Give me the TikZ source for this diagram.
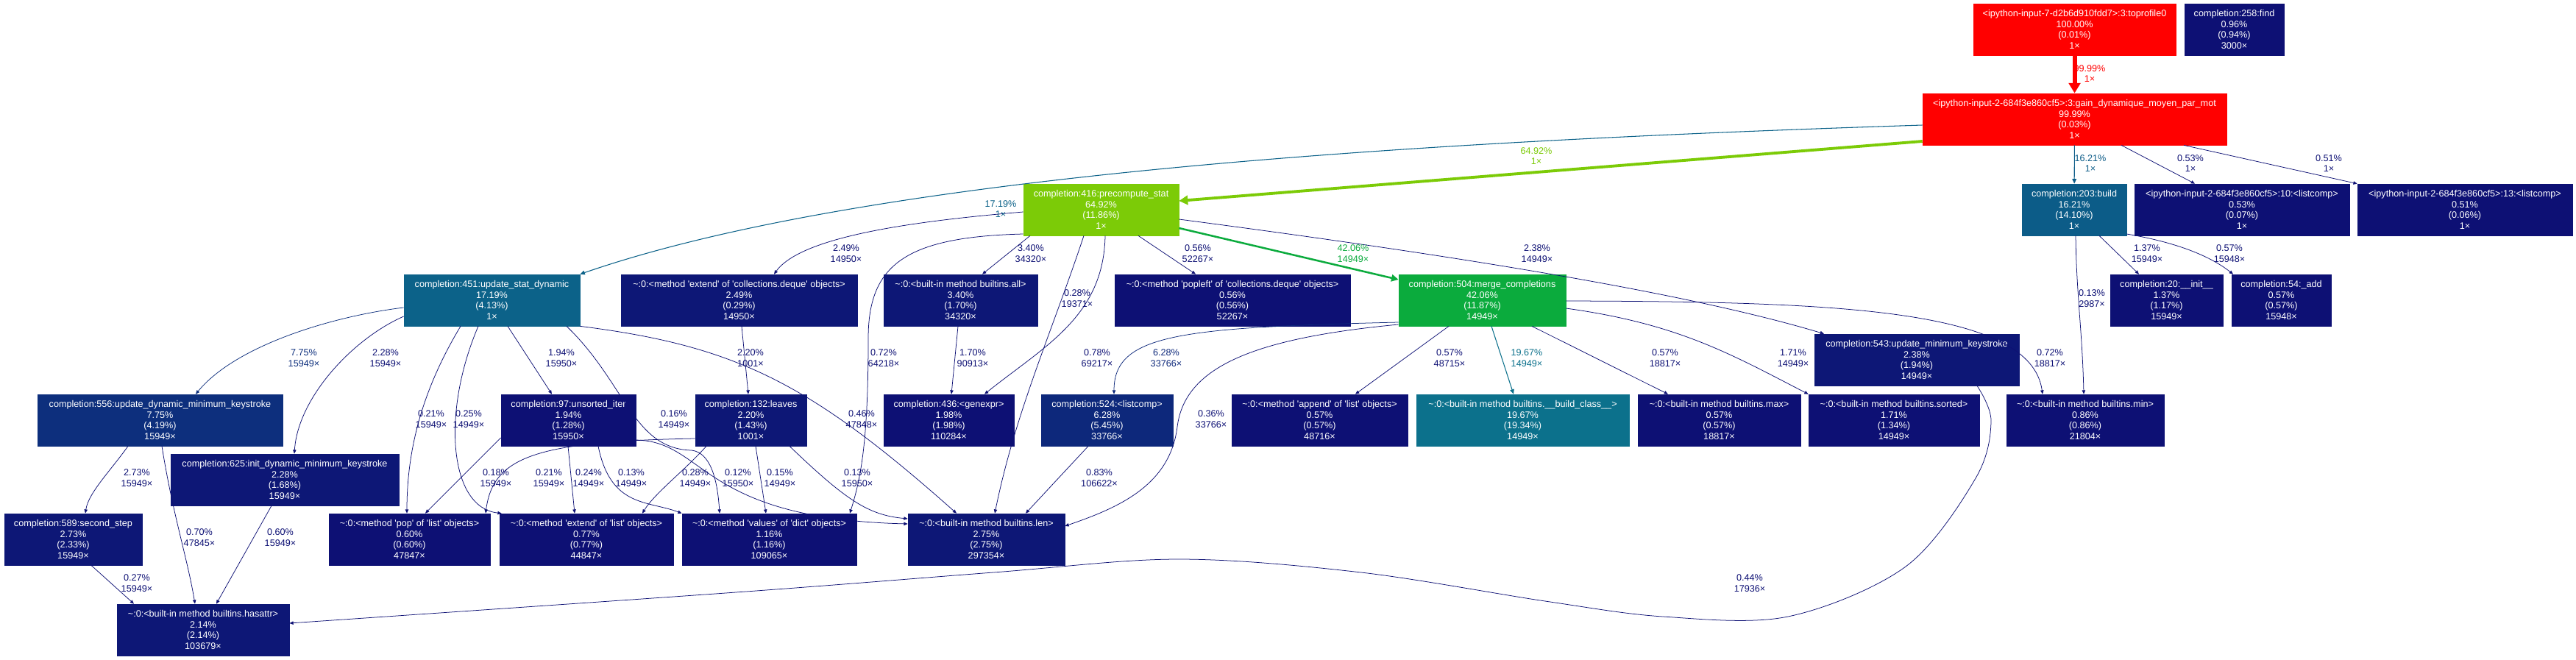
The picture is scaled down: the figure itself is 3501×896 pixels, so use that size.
\documentclass[tikz,border=0pt]{standalone}
\usepackage{fontspec}
\setmainfont{Liberation Sans}
\usetikzlibrary{arrows.meta}

\definecolor{cRed}{RGB}{255,0,0}
\definecolor{cLime}{RGB}{124,203,7}
\definecolor{cGreen}{RGB}{11,171,61}
\definecolor{cTealA}{RGB}{12,98,137}
\definecolor{cTealB}{RGB}{12,92,136}
\definecolor{cTealC}{RGB}{12,113,140}
\definecolor{cBlueA}{RGB}{13,47,125}
\definecolor{cBlueB}{RGB}{13,40,123}
\definecolor{cNavyA}{RGB}{13,23,118}
\definecolor{cNavy}{RGB}{13,16,116}

\newcommand\fs{\fontsize{7.2}{8.4}\selectfont}
\newcommand\tld{\textasciitilde}
\newcommand\q{\textquotesingle}

\tikzset{
  fn/.style={draw=#1, fill=#1, text=white, font=\fs, align=center, inner sep=0pt, minimum height=1.4cm},
  bw/.style={minimum width=#1*0.02cm},
  px/.style={xshift={(#1)*0.02cm}},
  py/.style={yshift={-(#1)*0.02cm}},
  elab/.style={text=#1, font=\fs, align=center, inner sep=0pt},
  elab/.default=cNavy,
  ln/.style={draw=#1, line width=0.43pt, -{Triangle[length=3pt,width=2.5pt]}},
  ln/.default=cNavy,
  lteal/.style={draw=#1, line width=0.6pt, -{Triangle[length=3.7pt,width=3.2pt]}},
  lgreen/.style={draw=cGreen, line width=1.43pt, -{Triangle[length=5.5pt,width=5.3pt]}},
  llime/.style={draw=cLime, line width=2.2pt, -{Triangle[length=6.8pt,width=7pt]}},
  lred/.style={draw=cRed, line width=3.4pt, -{Triangle[length=7.9pt,width=8.9pt]}},
}

\begin{document}
\begin{tikzpicture}[x=0.02cm, y=-0.02cm]
    \fill[white] (0,0) rectangle (3501,896);
    \useasboundingbox (0,0) rectangle (3501,896);

    % top row
    \node[fn=cRed, bw=275] (top) at (2819.5,40) {<ipython-input-7-d2b6d910fdd7>:3:toprofile0\\100.00\%\\(0.01\%)\\1×};
    \node[fn=cNavy, bw=135] (find) at (3036.5,40) {completion:258:find\\0.96\%\\(0.94\%)\\3000×};
    \node[fn=cRed, bw=413] (gain) at (2819.5,162) {<ipython-input-2-684f3e860cf5>:3:gain\_dynamique\_moyen\_par\_mot\\99.99\%\\(0.03\%)\\1×};

    % second row
    \node[fn=cLime, bw=211] (precompute) at (1496.5,285) {completion:416:precompute\_stat\\64.92\%\\(11.86\%)\\1×};
    \node[fn=cTealB, bw=142] (build) at (2819,285) {completion:203:build\\16.21\%\\(14.10\%)\\1×};
    \node[fn=cNavy, bw=292] (lc10) at (3047,285) {<ipython-input-2-684f3e860cf5>:10:<listcomp>\\0.53\%\\(0.07\%)\\1×};
    \node[fn=cNavy, bw=292] (lc13) at (3350,285) {<ipython-input-2-684f3e860cf5>:13:<listcomp>\\0.51\%\\(0.06\%)\\1×};

    % third row
    \node[fn=cTealA, bw=239] (usd) at (668.5,408) {completion:451:update\_stat\_dynamic\\17.19\%\\(4.13\%)\\1×};
    \node[fn=cNavyA, bw=321] (extd) at (1004.5,408) {\tld:0:<method \q extend\q{} of \q collections.deque\q{} objects>\\2.49\%\\(0.29\%)\\14950×};
    \node[fn=cNavyA, bw=209] (all) at (1305.5,408) {\tld:0:<built-in method builtins.all>\\3.40\%\\(1.70\%)\\34320×};
    \node[fn=cNavy, bw=320] (popleft) at (1675,408) {\tld:0:<method \q popleft\q{} of \q collections.deque\q{} objects>\\0.56\%\\(0.56\%)\\52267×};
    \node[fn=cGreen, bw=227] (merge) at (2014.5,408) {completion:504:merge\_completions\\42.06\%\\(11.87\%)\\14949×};
    \node[fn=cNavy, bw=153] (init) at (2944.5,408) {completion:20:\_\_init\_\_\\1.37\%\\(1.17\%)\\15949×};
    \node[fn=cNavy, bw=135] (add) at (3100.5,408) {completion:54:\_add\\0.57\%\\(0.57\%)\\15948×};
    \node[fn=cNavyA, bw=278] (umk) at (2605,489) {completion:543:update\_minimum\_keystroke\\2.38\%\\(1.94\%)\\14949×};

    % fourth row
    \node[fn=cBlueA, bw=333] (udmk) at (217.5,571) {completion:556:update\_dynamic\_minimum\_keystroke\\7.75\%\\(4.19\%)\\15949×};
    \node[fn=cNavy, bw=183] (unsorted) at (772.5,571) {completion:97:unsorted\_iter\\1.94\%\\(1.28\%)\\15950×};
    \node[fn=cNavyA, bw=151] (leaves) at (1020.5,571) {completion:132:leaves\\2.20\%\\(1.43\%)\\1001×};
    \node[fn=cNavy, bw=177] (genexpr) at (1289.5,571) {completion:436:<genexpr>\\1.98\%\\(1.98\%)\\110284×};
    \node[fn=cBlueB, bw=179] (lc524) at (1504.5,571) {completion:524:<listcomp>\\6.28\%\\(5.45\%)\\33766×};
    \node[fn=cNavy, bw=239] (append) at (1793.5,571) {\tld:0:<method \q append\q{} of \q list\q{} objects>\\0.57\%\\(0.57\%)\\48716×};
    \node[fn=cTealC, bw=289] (bclass) at (2069.5,571) {\tld:0:<built-in method builtins.\_\_build\_class\_\_>\\19.67\%\\(19.34\%)\\14949×};
    \node[fn=cNavy, bw=221] (max) at (2336.5,571) {\tld:0:<built-in method builtins.max>\\0.57\%\\(0.57\%)\\18817×};
    \node[fn=cNavy, bw=232] (sorted) at (2574,571) {\tld:0:<built-in method builtins.sorted>\\1.71\%\\(1.34\%)\\14949×};
    \node[fn=cNavy, bw=214] (min) at (2834,571) {\tld:0:<built-in method builtins.min>\\0.86\%\\(0.86\%)\\21804×};

    % lower rows
    \node[fn=cNavyA, bw=310] (idmk) at (387,652) {completion:625:init\_dynamic\_minimum\_keystroke\\2.28\%\\(1.68\%)\\15949×};
    \node[fn=cNavyA, bw=187] (second) at (99.5,733) {completion:589:second\_step\\2.73\%\\(2.33\%)\\15949×};
    \node[fn=cNavy, bw=219] (pop) at (556.5,733) {\tld:0:<method \q pop\q{} of \q list\q{} objects>\\0.60\%\\(0.60\%)\\47847×};
    \node[fn=cNavy, bw=236] (extl) at (797,733) {\tld:0:<method \q extend\q{} of \q list\q{} objects>\\0.77\%\\(0.77\%)\\44847×};
    \node[fn=cNavy, bw=237] (values) at (1045.5,733) {\tld:0:<method \q values\q{} of \q dict\q{} objects>\\1.16\%\\(1.16\%)\\109065×};
    \node[fn=cNavyA, bw=213] (len) at (1340.5,733) {\tld:0:<built-in method builtins.len>\\2.75\%\\(2.75\%)\\297354×};
    \node[fn=cNavyA, bw=234] (hasattr) at (276,856) {\tld:0:<built-in method builtins.hasattr>\\2.14\%\\(2.14\%)\\103679×};

    % edges from the top
    \draw[lred] (top) -- (gain);
    \draw[lteal=cTealB] (gain) -- (build);
    \draw[ln] ([px=63.5]gain.south) -- ([px=-64]lc10.north);
    \draw[ln] ([px=148.5]gain.south) -- (lc13.north west);
    \draw[llime] ([py=30]gain.west) -- ([py=-12]precompute.east);
    \draw[lteal=cTealA] ([py=8]gain.west) .. controls (2000,190) and (1200,230) .. (usd.north east);

    % edges from precompute_stat
    \draw[lgreen] ([py=25]precompute.east) -- ([py=-28]merge.west);
    \draw[ln] ([py=13]precompute.east) .. controls (2000,350) and (2300,400) .. ([px=-126]umk.north);
    \draw[ln] ([px=50.5]precompute.south) -- ([px=-50]popleft.north);
    \draw[ln] ([px=-96.5]precompute.south) -- ([px=29.5]all.north);
    \draw[ln] ([py=3]precompute.west) .. controls (1250,300) and (1090,320) .. ([px=47.5]extd.north);
    \draw[ln] ([px=5.5]precompute.south) .. controls (1500,430) and (1420,470) .. ([px=48.5]genexpr.north);
    \draw[ln] ([px=-23.5]precompute.south) .. controls (1430,450) and (1380,560) .. ([px=11.5]len.north);
    \draw[ln] ([py=33]precompute.west) .. controls (1230,322) and (1180,360) .. (1180,460) .. controls (1180,600) and (1170,650) .. ([px=109.5]values.north);
    \draw[ln] ([px=3.5]extd.south) -- ([px=-3.5]leaves.north);
    \draw[ln] ([px=-3.5]all.south) -- ([px=3.5]genexpr.north);

    % edges from build
    \draw[ln] ([px=34]build.south) -- ([px=-37.5]init.north);
    \draw[ln] ([py=33]build.east) .. controls (2950,328) and (3000,345) .. ([px=-65.5]add.north);
    \draw[ln] ([px=2]build.south) .. controls (2822,400) and (2830,450) .. ([px=-2]min.north);

    % edges from update_stat_dynamic
    \draw[ln=cBlueA] ([py=10]usd.west) .. controls (450,430) and (320,470) .. ([px=48.5]udmk.north);
    \draw[ln] ([py=22]usd.west) .. controls (480,460) and (405,540) .. ([px=13]idmk.north);
    \draw[ln] ([px=21.5]usd.south) -- ([px=-22.5]unsorted.north);
    \draw[ln] ([px=-42.5]usd.south) .. controls (580,520) and (553,600) .. ([px=-3.5]pop.north);
    \draw[ln] ([px=-18.5]usd.south) .. controls (600,560) and (610,690) .. ([px=3]extl.north west);
    \draw[ln] ([px=101.5]usd.south) .. controls (850,520) and (860,610) .. (940,612) .. controls (965,615) and (975,650) .. ([px=-67.5]values.north);
    \draw[ln] (usd.south east) .. controls (1000,470) and (1100,520) .. ([px=-40.5]len.north);

    % edges in the lower left
    \draw[ln] ([px=-43.5]udmk.south) .. controls (150,640) and (120,670) .. ([px=16.5]second.north);
    \draw[ln] ([px=2.5]udmk.south) .. controls (235,700) and (255,760) .. ([px=-11]hasattr.north);
    \draw[ln] ([px=-18]idmk.south) -- ([px=18]hasattr.north);
    \draw[ln] ([px=24.5]second.south) -- ([px=-94]hasattr.north);

    % edges from unsorted_iter and leaves
    \draw[ln] ([py=24]unsorted.west) -- ([px=21.5]pop.north);
    \draw[ln] ([px=-0.5]unsorted.south) -- ([px=-16]extl.north);
    \draw[ln] ([px=40.5]unsorted.south) .. controls (830,690) and (880,680) .. (values.north west);
    \draw[ln] ([py=27]unsorted.east) .. controls (960,600) and (950,705) .. ([py=-21]len.west);
    \draw[ln] ([py=25]leaves.west) .. controls (730,600) and (670,620) .. ([px=103.5]pop.north);
    \draw[ln] ([px=-60.5]leaves.south) .. controls (930,640) and (890,670) .. ([px=76]extl.north);
    \draw[ln] ([px=6.5]leaves.south) -- ([px=-4.5]values.north);
    \draw[ln] ([px=52.5]leaves.south) .. controls (1150,680) and (1180,700) .. ([py=-28]len.west);

    % edges from merge_completions
    \draw[ln=cBlueB] ([py=30]merge.west) .. controls (1600,445) and (1514,455) .. ([px=9.5]lc524.north);
    \draw[ln] ([py=33]merge.west) .. controls (1700,460) and (1610,500) .. (1600,580) .. controls (1590,660) and (1520,690) .. ([py=-18]len.east);
    \draw[ln] ([px=-45.5]merge.south) -- ([px=48.5]append.north);
    \draw[lteal=cTealC] ([px=12.5]merge.south) -- ([px=-12.5]bclass.north);
    \draw[ln] ([px=67.5]merge.south) -- ([px=-69.5]max.north);
    \draw[ln] ([py=11]merge.east) .. controls (2280,440) and (2350,480) .. (sorted.north west);
    \draw[ln] ([py=1]merge.east) .. controls (2500,410) and (2760,420) .. ([px=-58]min.north);
    \draw[ln] ([px=-25.5]lc524.south) -- ([px=53.5]len.north);
    \draw[ln] plot[smooth, tension=0.55] coordinates {([px=82]umk.south) (2706,572) (2685,650) (2590,770) (2430,838) (2260,838) (2100,817) (1850,778) (1602,760) (1350,778) (1000,805) ([py=-9]hasattr.east)};

    % edge labels
    \node[elab=cRed] (l01) at (2840,100) {99.99\%\\1×};
    \node[elab=cTealB] (l02) at (2841,222) {16.21\%\\1×};
    \node[elab] (l03) at (2977,222) {0.53\%\\1×};
    \node[elab] (l04) at (3165,222) {0.51\%\\1×};
    \node[elab=cLime] (l05) at (2088,212) {64.92\%\\1×};
    \node[elab=cTealA] (l06) at (1360,284) {17.19\%\\1×};
    \node[elab=cGreen] (l07) at (1839,345) {42.06\%\\14949×};
    \node[elab] (l08) at (2089,345) {2.38\%\\14949×};
    \node[elab] (l09) at (1628,345) {0.56\%\\52267×};
    \node[elab] (l10) at (1401,345) {3.40\%\\34320×};
    \node[elab] (l11) at (1150,345) {2.49\%\\14950×};
    \node[elab] (l12) at (1464,406) {0.28\%\\19371×};
    \node[elab] (l13) at (1491,487) {0.78\%\\69217×};
    \node[elab] (l14) at (1201,487) {0.72\%\\64218×};
    \node[elab] (l15) at (1020,487) {2.20\%\\1001×};
    \node[elab] (l16) at (1322,487) {1.70\%\\90913×};
    \node[elab] (l17) at (2918,345) {1.37\%\\15949×};
    \node[elab] (l18) at (3030,345) {0.57\%\\15948×};
    \node[elab] (l19) at (2843,406) {0.13\%\\2987×};
    \node[elab=cBlueA] (l20) at (413,487) {7.75\%\\15949×};
    \node[elab] (l21) at (524,487) {2.28\%\\15949×};
    \node[elab] (l22) at (763,487) {1.94\%\\15950×};
    \node[elab] (l23) at (586,570) {0.21\%\\15949×};
    \node[elab] (l24) at (637,570) {0.25\%\\14949×};
    \node[elab] (l25) at (916,570) {0.16\%\\14949×};
    \node[elab] (l26) at (1171,570) {0.46\%\\47848×};
    \node[elab] (l27) at (186,650) {2.73\%\\15949×};
    \node[elab] (l28) at (271,731) {0.70\%\\47845×};
    \node[elab] (l29) at (381,731) {0.60\%\\15949×};
    \node[elab] (l30) at (186,793) {0.27\%\\15949×};
    \node[elab] (l31) at (674,650) {0.18\%\\15949×};
    \node[elab] (l32) at (800,650) {0.24\%\\14949×};
    \node[elab] (l33) at (858,650) {0.13\%\\14949×};
    \node[elab] (l34) at (1003,650) {0.12\%\\15950×};
    \node[elab] (l35) at (746,650) {0.21\%\\15949×};
    \node[elab] (l36) at (945,650) {0.28\%\\14949×};
    \node[elab] (l37) at (1060,650) {0.15\%\\14949×};
    \node[elab] (l38) at (1165,650) {0.13\%\\15950×};
    \node[elab=cBlueB] (l39) at (1585,487) {6.28\%\\33766×};
    \node[elab] (l40) at (1646,570) {0.36\%\\33766×};
    \node[elab] (l41) at (1970,487) {0.57\%\\48715×};
    \node[elab=cTealC] (l42) at (2075,487) {19.67\%\\14949×};
    \node[elab] (l43) at (2263,487) {0.57\%\\18817×};
    \node[elab] (l44) at (2437,487) {1.71\%\\14949×};
    \node[elab] (l45) at (2786,487) {0.72\%\\18817×};
    \node[elab] (l46) at (2378,793) {0.44\%\\17936×};
    \node[elab] (l47) at (1494,650) {0.83\%\\106622×};
\end{tikzpicture}
\end{document}
